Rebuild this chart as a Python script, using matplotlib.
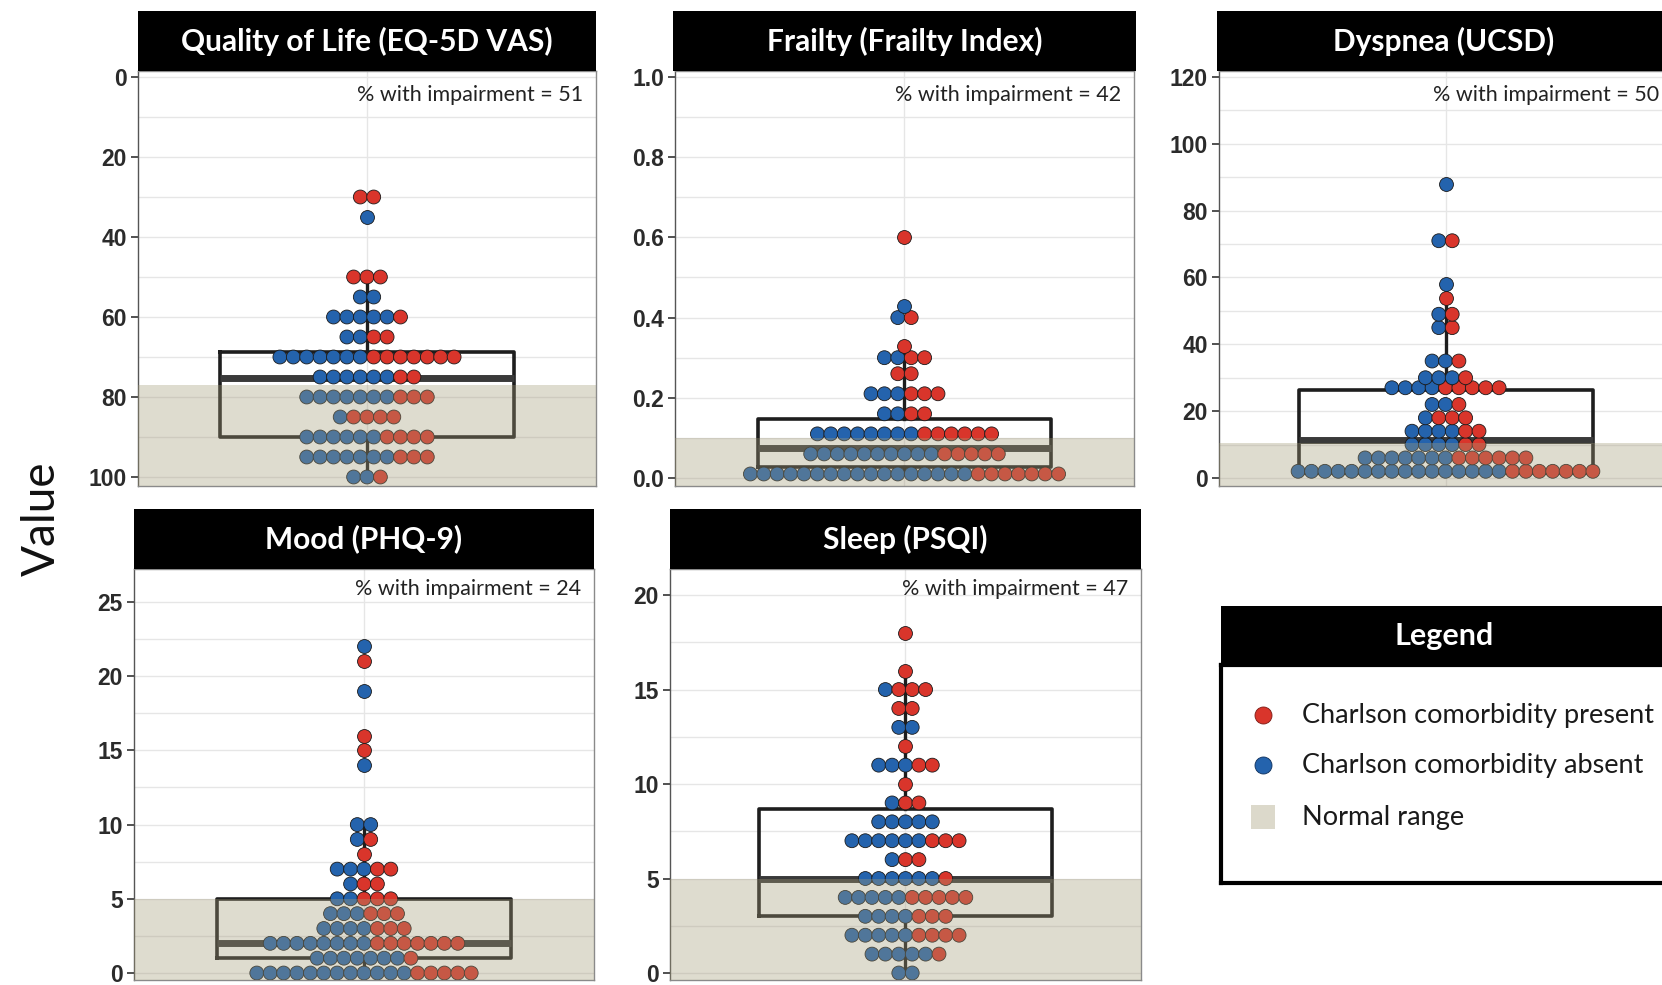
import numpy as np
import matplotlib
matplotlib.use("Agg")
import matplotlib.pyplot as plt
from matplotlib.ticker import MultipleLocator, FormatStrFormatter

# ---------------- data ----------------
titles = ["Quality of Life (EQ-5D VAS)", "Frailty (Frailty Index)", "Dyspnea (UCSD)",
          "Mood (PHQ-9)", "Sleep (PSQI)"]
pct_impairment = [51, 42, 50, 24, 47]

qol_vals    = [30, 35, 50, 55, 60, 65, 70, 75, 80, 85, 90, 95, 100]
qol_absent  = [0, 1, 0, 2, 5, 2, 7, 6, 7, 1, 6, 7, 2]
qol_present = [2, 0, 3, 0, 1, 2, 7, 2, 3, 4, 4, 3, 1]

fra_vals    = [0.01, 0.06, 0.11, 0.16, 0.21, 0.26, 0.30, 0.33, 0.40, 0.43, 0.60]
fra_absent  = [17, 10, 8, 2, 3, 0, 2, 0, 1, 1, 0]
fra_present = [7, 5, 6, 2, 3, 2, 2, 1, 1, 0, 1]

dys_vals    = [2, 6, 10, 14, 18, 22, 27, 30, 35, 45, 49, 54, 58, 71, 88]
dys_absent  = [16, 7, 4, 4, 1, 2, 4, 3, 2, 1, 1, 0, 1, 1, 1]
dys_present = [7, 6, 2, 2, 3, 1, 5, 1, 1, 1, 1, 1, 0, 1, 0]

moo_vals    = [0, 1, 2, 3, 4, 5, 6, 7, 8, 9, 10, 14, 15, 16, 19, 21, 22]
moo_absent  = [12, 7, 8, 4, 3, 2, 1, 3, 0, 1, 2, 1, 0, 0, 1, 0, 1]
moo_present = [5, 1, 7, 3, 3, 3, 2, 2, 1, 1, 0, 0, 1, 1, 0, 1, 0]

slp_vals    = [0, 1, 2, 3, 4, 5, 6, 7, 8, 9, 10, 11, 12, 13, 14, 15, 16, 18]
slp_absent  = [2, 5, 5, 4, 5, 6, 1, 6, 5, 1, 0, 3, 0, 2, 0, 1, 0, 0]
slp_present = [0, 1, 4, 3, 5, 1, 2, 3, 0, 2, 1, 2, 1, 0, 2, 3, 1, 1]

# box statistics: q1, median, q3, whisker low, whisker high
box_q1   = [68.7, 0.027, 1.5, 1.0, 3.0]
box_med  = [75.3, 0.074, 11.4, 2.0, 5.0]
box_q3   = [90.0, 0.148, 26.3, 5.0, 8.7]
box_wlo  = [50.0, 0.01, 2.0, 0.0, 0.0]
box_whi  = [100.0, 0.33, 58.0, 10.0, 16.0]

# normal range (threshold)
normal_lo = [77, 0, 0, 0, 0]
normal_hi = [100, 0.10, 10.5, 5, 5]

yticks = [[0, 20, 40, 60, 80, 100], [0.0, 0.2, 0.4, 0.6, 0.8, 1.0],
          [0, 20, 40, 60, 80, 100, 120], [0, 5, 10, 15, 20, 25], [0, 5, 10, 15, 20]]

legend_labels = ["Charlson comorbidity present", "Charlson comorbidity absent", "Normal range"]

# ---------------- style ----------------
RED = "#d9352b"
BLUE = "#2463ad"
SHADE = "#a39b77"
SHADE_LEG = "#dcd9cb"
W, H = 1662, 985
FONT = ["Lato", "DejaVu Sans"]
TICKFONT = ["Liberation Sans", "DejaVu Sans"]

fig = plt.figure(figsize=(W / 100, H / 100), dpi=100)


def px_axes(x0, y0, x1, y1):
    return fig.add_axes([x0 / W, 1 - y1 / H, (x1 - x0) / W, (y1 - y0) / H])


panels = [
    dict(plot=(138, 71, 596, 486), title=(138, 11, 596, 71), ylim=(102.25, -1.5),
         vals=qol_vals, a=qol_absent, p=qol_present, minor=10, fmt="%d", ty=0.942),
    dict(plot=(675, 71, 1134, 486), title=(673, 11, 1136, 71), ylim=(-0.02, 1.015),
         vals=fra_vals, a=fra_absent, p=fra_present, minor=0.1, fmt="%.1f", ty=0.942),
    dict(plot=(1219, 71, 1672, 486), title=(1217, 11, 1674, 71), ylim=(-2.4, 121.8),
         vals=dys_vals, a=dys_absent, p=dys_present, minor=10, fmt="%d", ty=0.942),
    dict(plot=(134, 569, 594, 980), title=(134, 509, 594, 569), ylim=(-0.47, 27.22),
         vals=moo_vals, a=moo_absent, p=moo_present, minor=2.5, fmt="%d", ty=0.952),
    dict(plot=(670, 569, 1141, 980), title=(670, 509, 1141, 569), ylim=(-0.37, 21.38),
         vals=slp_vals, a=slp_absent, p=slp_present, minor=2.5, fmt="%d", ty=0.952),
]

SPACING = 13.4      # horizontal dot spacing in pixels
DOT_S = 100         # marker area (pt^2)
BOX_HALF = 147      # half box width in pixels

for i, pn in enumerate(panels):
    x0, y0, x1, y1 = pn["plot"]
    ax = px_axes(x0, y0, x1, y1)
    wpx = x1 - x0
    ax.set_xlim(-wpx / 2, wpx / 2)
    ax.set_ylim(*pn["ylim"])
    ax.set_facecolor("white")

    # grid
    ax.yaxis.set_major_locator(plt.FixedLocator(yticks[i]))
    ax.yaxis.set_minor_locator(MultipleLocator(pn["minor"]))
    ax.yaxis.set_major_formatter(FormatStrFormatter(pn["fmt"]))
    ax.grid(True, which="both", axis="y", color="#e6e6e6", lw=1.0, zorder=0)
    ax.axvline(0, color="#e6e6e6", lw=1.0, zorder=0)
    ax.set_axisbelow(True)
    ax.set_xticks([])
    ax.tick_params(axis="y", which="major", length=5, width=1.2, color="#333333",
                   labelsize=16.5, labelcolor="#2b2b2b", pad=3)
    ax.tick_params(axis="y", which="minor", length=0)
    for lab in ax.get_yticklabels():
        lab.set_family(TICKFONT)
        lab.set_fontweight("bold")
    for s in ax.spines.values():
        s.set_color("#8a8a8a")
        s.set_linewidth(1.0)
    ax.spines["left"].set_color("#555555")

    # box plot
    stats = [dict(med=box_med[i], q1=box_q1[i], q3=box_q3[i],
                  whislo=box_wlo[i], whishi=box_whi[i], fliers=[])]
    ax.bxp(stats, positions=[0], widths=[2 * BOX_HALF], showcaps=False, showfliers=False,
           patch_artist=False, manage_ticks=False,
           boxprops=dict(color="#1e1e1e", lw=2.6),
           whiskerprops=dict(color="#1e1e1e", lw=2.4),
           medianprops=dict(color="#3a3a3a", lw=5),
           zorder=2)

    # dots
    for v, na, npres in zip(pn["vals"], pn["a"], pn["p"]):
        n = na + npres
        xs = (np.arange(n) - (n - 1) / 2) * SPACING
        cols = [BLUE] * na + [RED] * npres
        ax.scatter(xs, np.full(n, v), s=DOT_S, c=cols, edgecolors="#1a1a1a",
                   linewidths=0.6, zorder=3)

    # normal range overlay
    ylo, yhi = sorted(ax.get_ylim())
    if i == 0:
        lo, hi = normal_lo[i], yhi
    else:
        lo, hi = ylo, normal_hi[i]
    ax.axhspan(lo, hi, color=SHADE, alpha=0.35, lw=0, zorder=5)

    ax.text(0.972, pn["ty"], f"% with impairment = {pct_impairment[i]}",
            transform=ax.transAxes, ha="right", va="center", fontsize=15.5,
            family=FONT, color="#222222", zorder=6)

    # title bar
    tx0, ty0, tx1, ty1 = pn["title"]
    tax = px_axes(tx0, ty0, tx1, ty1)
    tax.set_facecolor("black")
    tax.set_xticks([]); tax.set_yticks([])
    for s in tax.spines.values():
        s.set_visible(False)
    cx = 0.5 if i != 2 else (1444 - tx0) / (tx1 - tx0)
    tax.text(cx, 0.5, titles[i], color="white", fontsize=21.5, fontweight="bold",
             family=FONT, ha="center", va="center", transform=tax.transAxes)

# y label
fig.text(42 / W, 1 - 519 / H, "Value", rotation=90, fontsize=33, family=FONT,
         ha="center", va="center", color="#111111")

# legend
lt = px_axes(1221, 606, 1667, 665)
lt.set_facecolor("black")
lt.set_xticks([]); lt.set_yticks([])
for s in lt.spines.values():
    s.set_visible(False)
lt.text(0.5, 0.5, "Legend", color="white", fontsize=22, fontweight="bold",
        family=FONT, ha="center", va="center", transform=lt.transAxes)

lb = px_axes(1221, 665, 1667, 883)
lb.set_xlim(1221, 1667)
lb.set_ylim(883, 665)
lb.set_xticks([]); lb.set_yticks([])
for s in lb.spines.values():
    s.set_color("black")
    s.set_linewidth(3)
item_y = [715, 765, 817]
lb.scatter([1263], [item_y[0]], s=150, c=RED, edgecolors="#7a1a14", linewidths=0.6)
lb.scatter([1263], [item_y[1]], s=150, c=BLUE, edgecolors="#0e2f5a", linewidths=0.6)
lb.add_patch(plt.Rectangle((1251, item_y[2] - 12), 24, 24, color=SHADE_LEG, lw=0))
for yy, lab in zip(item_y, legend_labels):
    lb.text(1302, yy, lab, fontsize=19.5, family=FONT, va="center", ha="left", color="#1a1a1a")

fig.savefig("out.png", dpi=100, facecolor="white")
